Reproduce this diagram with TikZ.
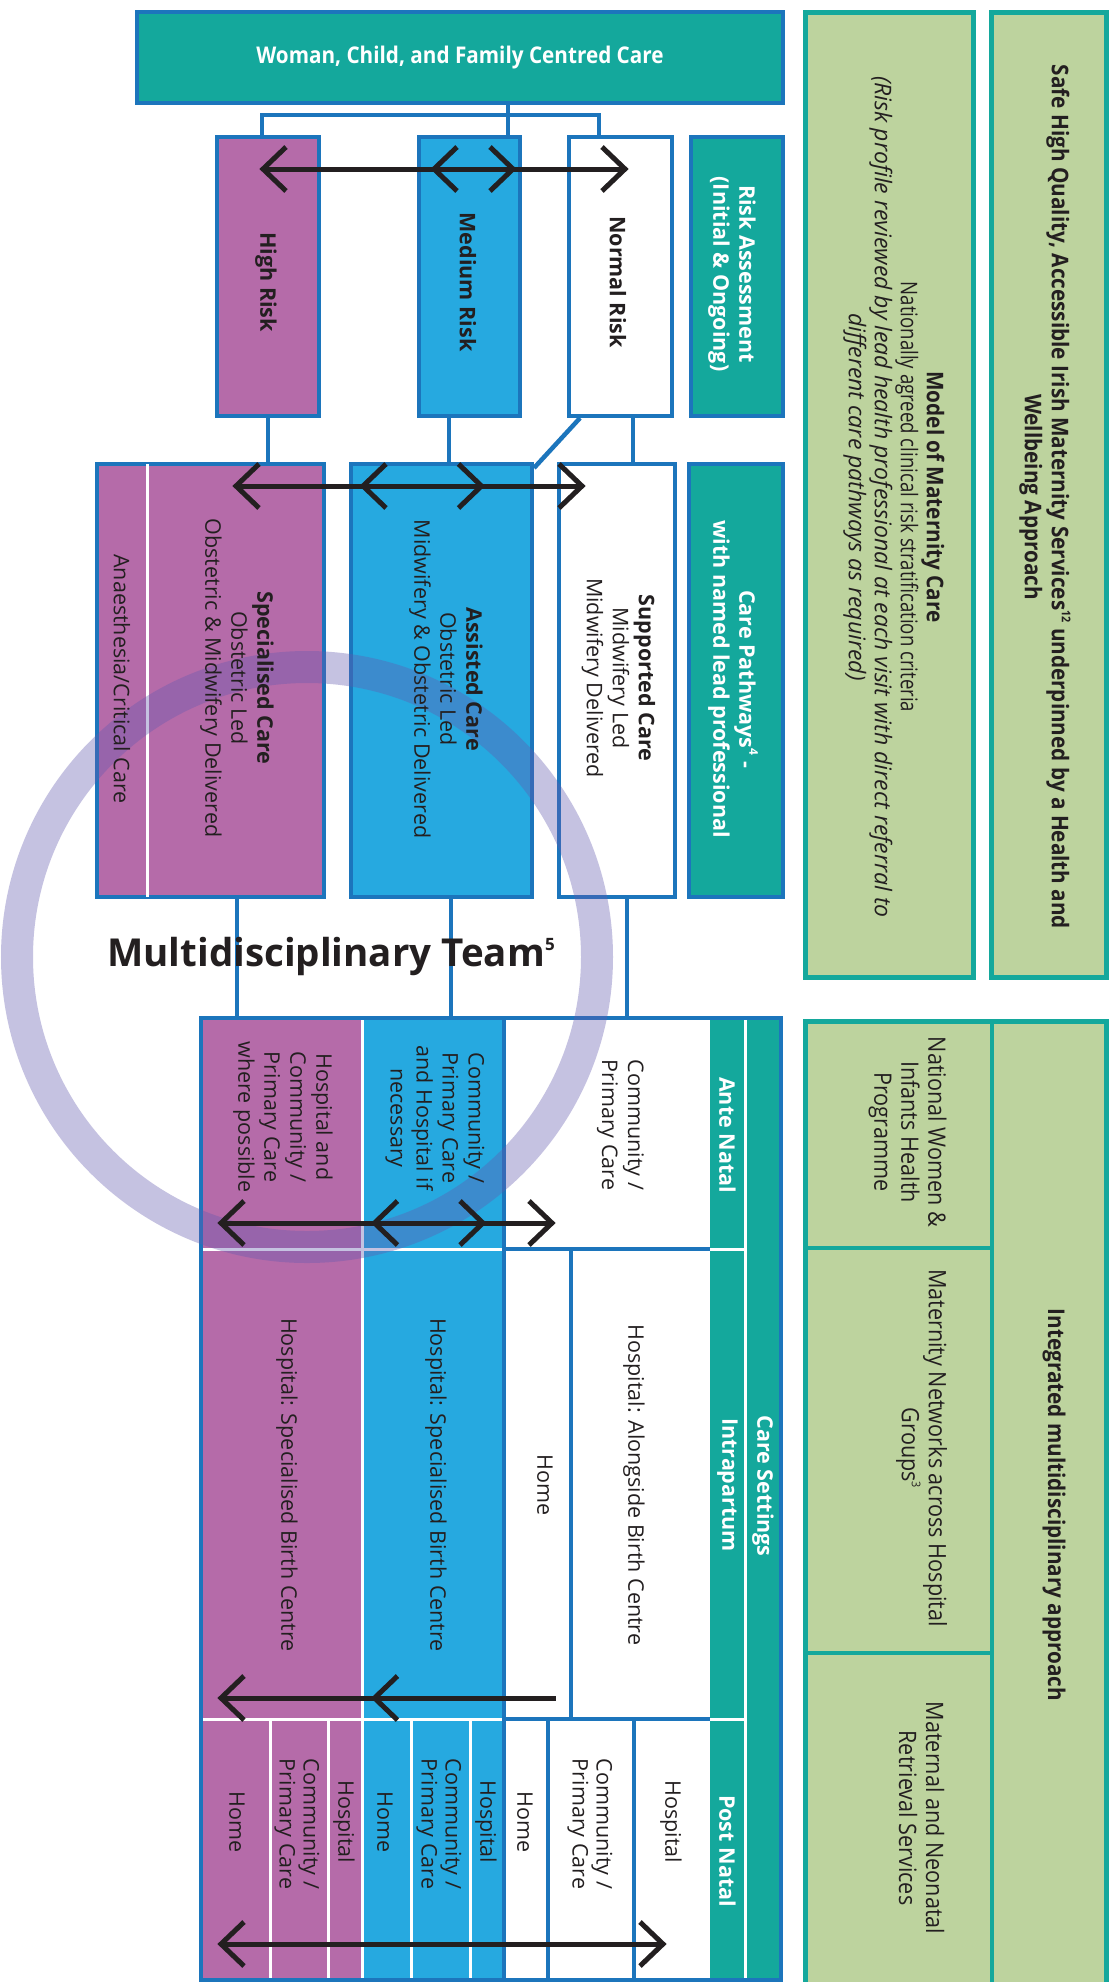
\documentclass[tikz,border=0pt]{standalone}
\usepackage{fontspec}
\setmainfont{Open Sans}
\newfontfamily\condfont[FakeStretch=0.81]{Open Sans}
\newfontfamily\condbfont[FakeStretch=0.9]{Open Sans}
\newfontfamily\condwfont[FakeStretch=0.9]{Open Sans}
\usetikzlibrary{calc}
\definecolor{cTeal}{RGB}{20,168,156}
\definecolor{cBlue}{RGB}{28,117,188}
\definecolor{cPurple}{RGB}{181,107,169}
\definecolor{cSky}{RGB}{38,169,224}
\definecolor{cGreen}{RGB}{189,211,158}
\definecolor{cInk}{RGB}{35,31,32}
\definecolor{cRing}{RGB}{100,90,175}
\newcommand\upnum[3]{\raisebox{#3pt}{\fontsize{#2}{#2}\selectfont #1}}
\newcommand\chevL[1]{\draw[chev] ($(#1)+(23,-22)$) -- (#1) -- ($(#1)+(23,22)$);}
\newcommand\chevR[1]{\draw[chev] ($(#1)+(-23,-22)$) -- (#1) -- ($(#1)+(-23,22)$);}
\begin{document}
\begin{tikzpicture}[x=1pt,y=-1pt,
  box/.style={draw=cBlue, line width=4pt, inner sep=0pt, anchor=north west},
  gbox/.style={draw=cTeal, line width=4.5pt, fill=cGreen, inner sep=0pt, anchor=north west},
  conn/.style={draw=cBlue, line width=4.5pt},
  wline/.style={draw=white, line width=3pt},
  bline/.style={draw=cBlue, line width=3.5pt},
  tline/.style={draw=cTeal, line width=4.5pt},
  arrowline/.style={draw=cInk, line width=5pt},
  chev/.style={draw=cInk, line width=5pt, line join=miter},
  txt/.style={rotate=-90, align=center, inner sep=0pt, text=cInk, font=\fontsize{21.5}{26}\selectfont},
  btxt/.style={txt, font=\bfseries\fontsize{21.5}{26}\selectfont},
  wtxt/.style={btxt, text=white},
  ptxt/.style={txt, font=\fontsize{21.5}{24}\selectfont},
  gtxt/.style={rotate=-90, align=center, inner sep=0pt, text=cInk, font=\condfont\fontsize{23}{26}\selectfont},
  gwtxt/.style={gtxt, font=\condwfont\fontsize{24}{27}\selectfont},
  bgtxt/.style={gtxt, font=\condbfont\bfseries\fontsize{23}{27}\selectfont},
]
\useasboundingbox (0,0) rectangle (1112,1982);
\fill[white] (0,0) rectangle (1112,1982);

% ---------- top and risk boxes ----------
\node[box, fill=cTeal, minimum width=646pt, minimum height=91pt] (top) at (135,10) {};
\node[box, fill=cPurple, minimum width=102pt, minimum height=279pt] (high) at (215,135) {};
\node[box, fill=cSky, minimum width=101pt, minimum height=279pt] (med) at (417,135) {};
\node[box, fill=white, minimum width=103pt, minimum height=279pt] (norm) at (567,135) {};
\node[box, fill=cTeal, minimum width=92pt, minimum height=279pt] (ra) at (689,135) {};

% ---------- care pathway boxes ----------
\node[box, fill=cPurple, minimum width=227pt, minimum height=433pt] (spec) at (95,462) {};
\node[box, fill=cSky, minimum width=181pt, minimum height=433pt] (assist) at (349,462) {};
\node[box, fill=white, minimum width=116pt, minimum height=433pt] (supp) at (557,462) {};
\node[box, fill=cTeal, minimum width=94pt, minimum height=433pt] (cpbox) at (687,462) {};
\draw[wline] ($(spec.north west)+(52,2)$) -- ($(spec.south west)+(52,-2)$);

% ---------- connectors ----------
\coordinate (hub) at (508,115);
\coordinate (hL) at (262,115);
\coordinate (hR) at (599,115);
\draw[conn] (hub |- top.south) -- (hub |- med.north);
\draw[conn] (hL |- high.north) -- (hL) -- (hR) -- (hR |- norm.north);
\coordinate (v1) at (268,0);
\coordinate (v2) at (449,0);
\coordinate (v3) at (633,0);
\draw[conn] (v1 |- high.south) -- (v1 |- spec.north);
\draw[conn] (v2 |- med.south) -- (v2 |- assist.north);
\draw[conn] (v3 |- norm.south) -- (v3 |- supp.north);
\draw[conn] ($(norm.south west)+(13,0)$) -- ($(assist.north east)+(0,6)$);

% ---------- care settings grid ----------
\node[anchor=north west, minimum width=580pt, minimum height=962pt, inner sep=0pt] (grid) at (201,1018) {};
\fill[cPurple] (201,1018) rectangle (362,1982);
\fill[cSky] (362,1018) rectangle (504,1982);
\fill[white] (504,1018) rectangle (710,1982);
\fill[cTeal] (710,1018) rectangle (781,1982);
\draw[wline] (362,1018) -- (362,1982);
\draw[wline] (201,1249) -- (504,1249);
\draw[wline] (201,1719) -- (504,1719);
\draw[wline] (270,1719) -- (270,1982);
\draw[wline] (328,1719) -- (328,1982);
\draw[wline] (411,1719) -- (411,1982);
\draw[wline] (470,1719) -- (470,1982);
\draw[wline] (710,1249) -- (745,1249);
\draw[wline] (710,1719) -- (745,1719);
\draw[wline] (745,1018) -- (745,1982);
\draw[bline] (504,1018) -- (504,1982);
\draw[bline] (504,1249) -- (710,1249);
\draw[bline] (504,1719) -- (710,1719);
\draw[bline] (571,1249) -- (571,1719);
\draw[bline] (548,1719) -- (548,1982);
\draw[bline] (634,1719) -- (634,1982);
\draw[draw=cBlue, line width=4pt] (grid.north west) rectangle (grid.south east);
\coordinate (v4) at (237,0);
\coordinate (v5) at (451,0);
\coordinate (v6) at (627,0);
\draw[conn] (v4 |- spec.south) -- (v4 |- grid.north);
\draw[conn] (v5 |- assist.south) -- (v5 |- grid.north);
\draw[conn] (v6 |- supp.south) -- (v6 |- grid.north);

% ---------- green boxes ----------
\node[gbox, minimum width=168pt, minimum height=965pt] (model) at (803,10) {};
\node[gbox, minimum width=115pt, minimum height=965pt] (safe) at (989,10) {};
\node[gbox, minimum width=301pt, minimum height=975pt] (integ) at (803,1019) {};
\coordinate (gx) at (992,0);
\draw[tline] (gx |- integ.north) -- (gx |- integ.south);
\draw[tline] (803,1248) -- (992,1248);
\draw[tline] (803,1653) -- (992,1653);

% ---------- ring ----------
\draw[cRing, draw opacity=0.37, line width=32pt] (307,957) circle[radius=290pt];

% ---------- texts ----------
\node[font=\condbfont\bfseries\fontsize{23}{26}\selectfont, text=white, inner sep=0pt] (ttop) at (top.center) {Woman, Child, and Family Centred Care};
\node[btxt] (thigh) at (266,282) {High Risk};
\node[btxt] (tmed) at (468,282) {Medium Risk};
\node[btxt] (tnorm) at (618,282) {Normal Risk};
\node[wtxt] (tra) at (732,274) {Risk Assessment\\(Initial \& Ongoing)};

\node[txt] (tspec) at (237,678) {\textbf{Specialised Care}\\Obstetric Led\\Obstetric \& Midwifery Delivered};
\node[txt] (tana) at (122,679) {Anaesthesia/Critical Care};
\node[txt] (tassist) at (446,679) {\textbf{Assisted Care}\\Obstetric Led\\Midwifery \& Obstetric Delivered};
\node[txt] (tsupp) at (618.5,678) {\textbf{Supported Care}\\Midwifery Led\\Midwifery Delivered};
\node[wtxt] (tcp) at (733,679) {Care Pathways\upnum{4}{12}{10} -\\with named lead professional};

\node[font=\bfseries\fontsize{38.5}{42}\selectfont, text=cInk, anchor=base, inner sep=0pt] (mdt) at (331,966) {Multidisciplinary Team\upnum{5}{17}{16}};

\node[txt] (a1) at (283,1117) {Hospital and\\Community /\\Primary Care\\where possible};
\node[txt] (a2) at (435,1118) {Community /\\Primary Care\\and Hospital if\\necessary};
\node[txt] (a3) at (620.5,1125) {Community /\\Primary Care};
\node[wtxt] (tante) at (727.5,1135) {Ante Natal};

\node[txt] (i1) at (287,1485) {Hospital: Specialised Birth Centre};
\node[txt] (i2) at (436,1485) {Hospital: Specialised Birth Centre};
\node[txt] (i3) at (545,1485) {Home};
\node[txt] (i4) at (634,1485) {Hospital: Alongside Birth Centre};
\node[wtxt] (tintra) at (727.5,1485) {Intrapartum};
\node[wtxt] (tcs) at (763,1486) {Care Settings};

\node[txt] (p1) at (237,1822) {Home};
\node[ptxt] (p2) at (297,1824) {Community /\\Primary Care};
\node[txt] (p3) at (344,1822) {Hospital};
\node[txt] (p4) at (385,1822) {Home};
\node[ptxt] (p5) at (439,1824) {Community /\\Primary Care};
\node[txt] (p6) at (486,1822) {Hospital};
\node[txt] (p7) at (525,1822) {Home};
\node[ptxt] (p8) at (590,1824) {Community /\\Primary Care};
\node[txt] (p9) at (671,1822) {Hospital};
\node[wtxt] (tpost) at (727.5,1851) {Post Natal};

\node[gtxt] (tmodel) at (894,497) {{\condbfont\bfseries Model of Maternity Care}\\Nationally agreed clinical risk stratification criteria\\{\normalfont\fontsize{23}{26}\selectfont\itshape (Risk profile reviewed by lead health professional at each visit with direct referral to}\\{\normalfont\fontsize{23}{26}\selectfont\itshape different care pathways as required)}};
\node[bgtxt] (tsafe) at (1045,497) {Safe High Quality, Accessible Irish Maternity Services\upnum{12}{12}{10} underpinned by a Health and\\Wellbeing Approach};
\node[bgtxt] (tinteg) at (1054,1505) {Integrated multidisciplinary approach};
\node[gwtxt] (tnat) at (907.5,1132) {National Women \&\\Infants Health\\Programme};
\node[gwtxt] (tnet) at (921.5,1448) {Maternity Networks across Hospital\\Groups\upnum{3}{12}{10}};
\node[gwtxt] (tret) at (921.5,1818) {Maternal and Neonatal\\Retrieval Services};

% ---------- arrows ----------
\coordinate (r1L) at (263,169); \coordinate (r1R) at (625,169);
\coordinate (r1a) at (434,169); \coordinate (r1b) at (513,169);
\draw[arrowline] (r1L) -- (r1R);
\chevL{r1L} \chevL{r1a} \chevR{r1b} \chevR{r1R}

\coordinate (r2L) at (236,486); \coordinate (r2R) at (582,486);
\coordinate (r2a) at (363,486); \coordinate (r2b) at (481.5,486);
\draw[arrowline] (r2L) -- (r2R);
\chevL{r2L} \chevL{r2a} \chevR{r2b} \chevR{r2R}

\coordinate (r3L) at (221,1223); \coordinate (r3R) at (552,1223);
\coordinate (r3a) at (374.5,1223); \coordinate (r3b) at (483,1223);
\draw[arrowline] (r3L) -- (r3R);
\chevL{r3L} \chevL{r3a} \chevR{r3b} \chevR{r3R}

\coordinate (r4L) at (221,1698); \coordinate (r4R) at (556,1698);
\coordinate (r4a) at (374.5,1698);
\draw[arrowline] (r4L) -- (r4R);
\chevL{r4L} \chevL{r4a}

\coordinate (r5L) at (221,1944); \coordinate (r5R) at (663,1944);
\draw[arrowline] (r5L) -- (r5R);
\chevL{r5L} \chevR{r5R}
\end{tikzpicture}
\end{document}
